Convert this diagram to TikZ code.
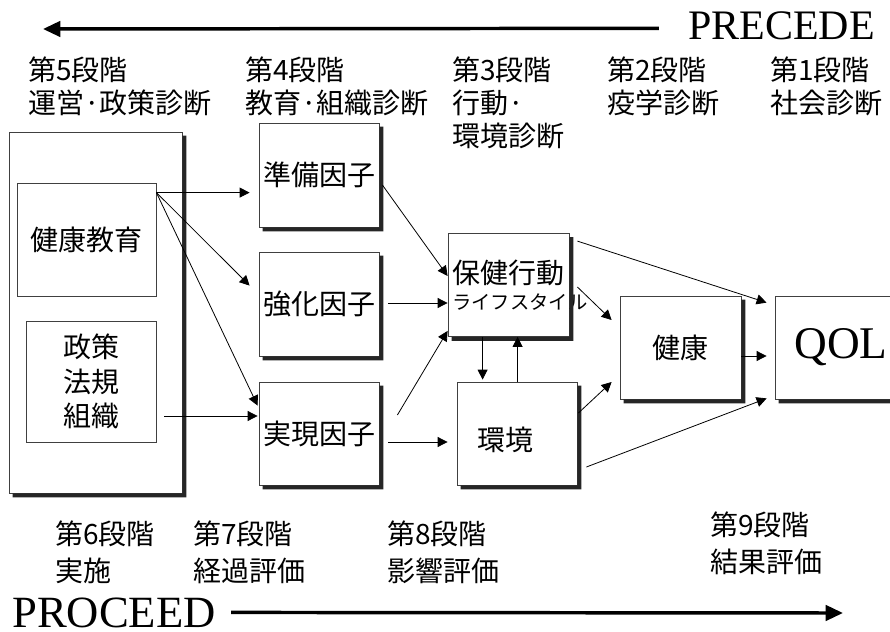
\documentclass[tikz,border=0pt]{standalone}
\usepackage{fontspec}
\setmainfont{Liberation Serif}
\newfontfamily\jp{Noto Sans CJK JP}
\usetikzlibrary{arrows.meta,calc}
\begin{document}
\begin{tikzpicture}[x=0.75pt,y=-0.75pt,
  bx/.style n args={2}{draw=black!75, line width=0.6pt, fill=white,
     minimum width=#1*0.75pt, minimum height=#2*0.75pt, inner sep=0pt,
     font=\jp\fontsize{21}{26}\selectfont, align=center},
  shadowfill/.style={fill=black!85},
  arr/.style={line width=0.6pt, -{Triangle[length=7.5pt,width=7.5pt]}},
  bigarr/.style={line width=2.6pt, -{Triangle[length=13pt,width=11.5pt]}},
  lbltop/.style={anchor=north west, inner sep=0pt, align=left, font=\jp\fontsize{21}{24.75}\selectfont},
  lblbot/.style={anchor=north west, inner sep=0pt, align=left, font=\jp\fontsize{21}{27.4}\selectfont}]
\useasboundingbox (0,0) rectangle (890,632);
\clip (0,0) rectangle (890,632);
\fill[white] (0,0) rectangle (890,632);

% big arrows and titles
\node (precede) [anchor=base east, inner sep=0pt, font=\fontsize{31.5}{32}\selectfont] at (875,39) {PRECEDE};
\coordinate (precedeTip) at (43,29);
\draw[bigarr] ($(precede.west)+(-29,3)$) -- (precedeTip);
\node (proceed) [anchor=base west, inner sep=0pt, font=\fontsize{33.5}{36}\selectfont] at (12,627) {PROCEED};
\coordinate (proceedTip) at (843,613);
\draw[bigarr] ($(proceed.east)+(15,0)$) -- (proceedTip);

% stage labels
\node (s5) [lbltop] at (28,57) {第5段階\\運営·政策診断};
\node (s4) [lbltop] at (245,57) {第4段階\\教育·組織診断};
\node (s3) [lbltop] at (452,57) {第3段階\\行動·\\環境診断};
\node (s2) [lbltop] at (607,57) {第2段階\\疫学診断};
\node (s1) [lbltop] at (770,57) {第1段階\\社会診断};
\node (s6) [lblbot] at (55,521) {第6段階\\実施};
\node (s7) [lblbot] at (193,521) {第7段階\\経過評価};
\node (s8) [lblbot] at (387,521) {第8段階\\影響評価};
\node (s9) [lblbot] at (710,512) {第9段階\\結果評価};

% boxes
\node (outer) [bx={173}{361}] at (95.5,312.5) {};
\node (kyoiku) [bx={139}{113}] at (86.5,239.5) {健康教育};
\node (seisaku) [bx={130}{121}] at (91,381.5) {政策\\法規\\組織};
\node (junbi) [bx={120}{104}] at (319,175) {準備因子};
\node (kyoka) [bx={120}{104}] at (319,304) {強化因子};
\node (jitsugen) [bx={120}{103}] at (319,433.5) {実現因子};
\node (hoken) [bx={121}{103}, align=left, text width=113*0.75pt] at (508.5,285)
  {保健行動\\[-6.5pt]{\fontsize{14.5}{16}\selectfont ライフスタイル}};
\node (kankyo) [bx={120}{103}] at (517,433.5) {};
\node (kankyoT) [inner sep=0pt, font=\jp\fontsize{21}{26}\selectfont] at (505,440) {環境};
\node (kenko) [bx={121}{103}] at (680.5,347.5) {健康};
\node (qol) [bx={120}{103}] at (835,347.5) {};
\node (qolT) [inner sep=0pt, font=\fontsize{34}{36}\selectfont] at (841,347) {QOL};

% drop shadows: L-shaped strips along right and bottom edges
\foreach \n in {outer,junbi,kyoka,jitsugen,hoken,kankyo,kenko,qol}
  \fill[shadowfill] ($(\n.north east)+(0,4)$) -- ($(\n.north east)+(4,4)$)
     -- ($(\n.south east)+(4,4)$) -- ($(\n.south west)+(4,4)$)
     -- ($(\n.south west)+(4,0)$) -- (\n.south east) -- cycle;

% connectors
\coordinate (k0) at ($(kyoiku.north east)+(0,10)$);
\draw[arr] (k0) -- ($(k0 -| junbi.west)+(-9,0)$);
\draw[arr] (k0) -- ($(kyoka.north west)+(-9,34)$);
\draw[arr] (k0) -- ($(jitsugen.north west)+(-1,24)$);
\draw[arr] ($(seisaku.east)+(8,34.5)$) -- ($(jitsugen.west)+(-1,-17.5)$);
\draw[arr] ($(junbi.east)+(3,10)$) -- ($(hoken.west)+(0,-9)$);
\draw[arr] ($(kyoka.east)+(9,-1)$) -- ($(hoken.west)+(0,18)$);
\draw[arr] ($(jitsugen.east)+(18,-18.5)$) -- ($(hoken.south west)+(0,-6)$);
\draw[arr] ($(jitsugen.east)+(9,8.5)$) -- ($(kankyo.west)+(-9,8.5)$);
\draw[arr] ($(hoken.north east)+(8,8)$) -- ($(qol.north west)+(-8,7)$);
\draw[arr] ($(hoken.east)+(8,2)$) -- ($(kenko.west)+(-8,-27.5)$);
\draw[arr] ($(hoken.south west)+(35,0)$) -- ($(kankyo.north west)+(26,-2)$);
\draw[arr] ($(kankyo.north west)+(61,0)$) -- ($(hoken.south west)+(70,0)$);
\draw[arr] ($(kankyo.east)+(1,-20.5)$) -- ($(kenko.west)+(-8,34.5)$);
\draw[arr] ($(kenko.east)+(0,8.5)$) -- ($(qol.west)+(-8,8.5)$);
\draw[arr] ($(kankyo.east)+(9,33.5)$) -- ($(qol.south west)+(-8,-1)$);
\end{tikzpicture}
\end{document}
